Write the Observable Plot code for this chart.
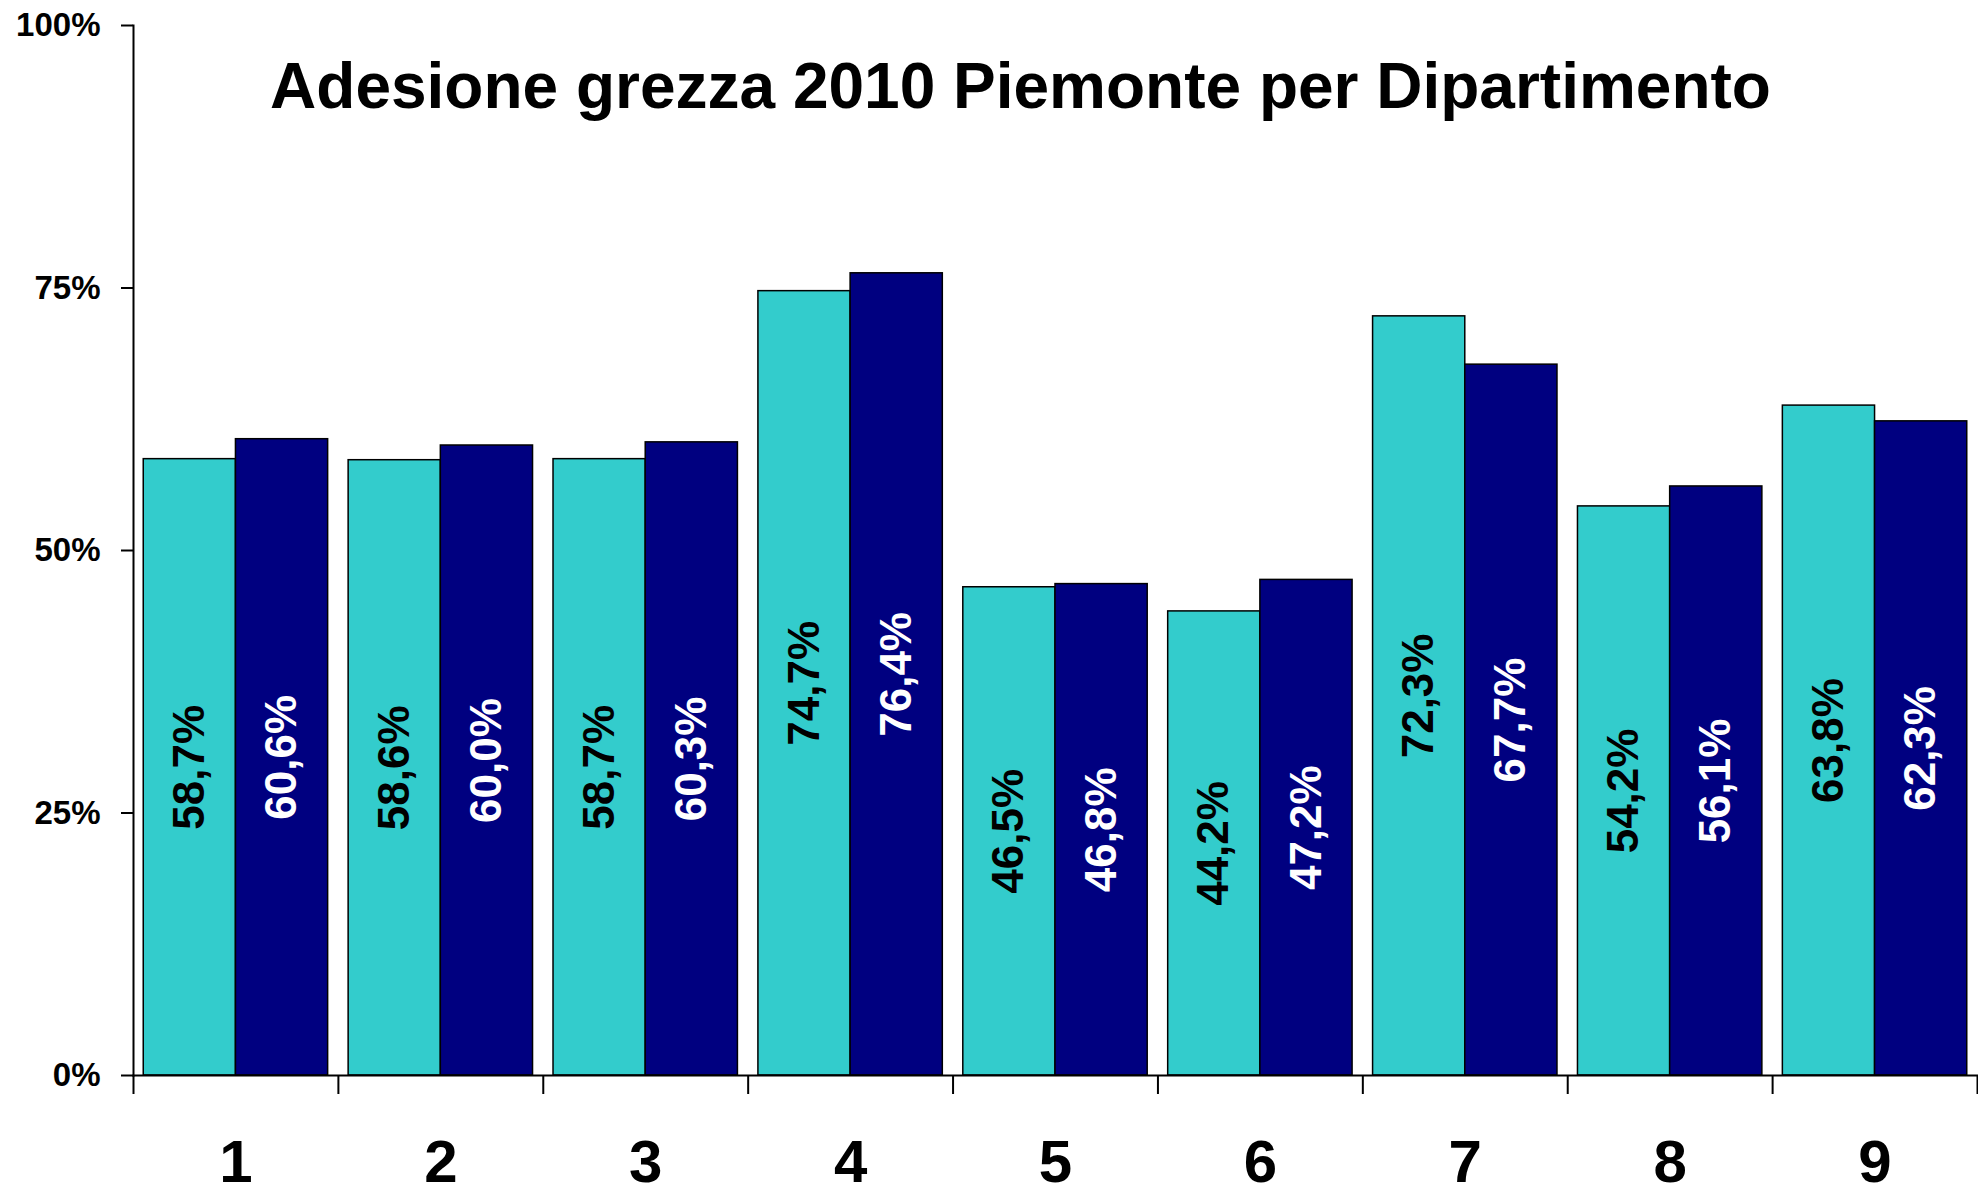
<!DOCTYPE html>
<html>
<head>
<meta charset="utf-8">
<script src="https://cdn.jsdelivr.net/npm/d3@7"></script>
<script src="https://cdn.jsdelivr.net/npm/@observablehq/plot@0.6"></script>
<style>
  html, body { margin: 0; padding: 0; background: #ffffff; }
  #chart { width: 1978px; height: 1196px; }
</style>
</head>
<body>
<div id="chart"></div>
<script>
const title = "Adesione grezza 2010 Piemonte per Dipartimento";
const departments = [1, 2, 3, 4, 5, 6, 7, 8, 9];
const seriesA = [0.587, 0.586, 0.587, 0.747, 0.465, 0.442, 0.723, 0.542, 0.638];
const seriesB = [0.606, 0.600, 0.603, 0.764, 0.468, 0.472, 0.677, 0.561, 0.623];
const yTicks = [0, 0.25, 0.5, 0.75, 1];
const colorA = "#33CCCC";
const colorB = "#000080";

const half = 0.45;
const rows = [];
departments.forEach((d, i) => {
  rows.push({dept: d, series: "A", value: seriesA[i], x1: d - half, x2: d});
  rows.push({dept: d, series: "B", value: seriesB[i], x1: d, x2: d + half});
});
const boundaries = departments.map(d => d - 0.5).concat([departments[departments.length - 1] + 0.5]);
const fmt = v => (v * 100).toFixed(1).replace(".", ",") + "%";

const chart = Plot.plot({
  width: 1978,
  height: 1196,
  marginLeft: 133,
  marginRight: 1,
  marginTop: 25,
  marginBottom: 121,
  style: {fontFamily: "'Liberation Sans', Arial, sans-serif", background: "#ffffff", color: "#000", overflow: "visible"},
  x: {type: "linear", domain: [0.5, 9.5]},
  y: {domain: [0, 1]},
  marks: [
    Plot.rectY(rows, {
      x1: "x1", x2: "x2", y: "value",
      fill: d => d.series === "A" ? colorA : colorB,
      stroke: "#000", strokeWidth: 1.5
    }),
    Plot.text(rows, {
      x: d => (d.x1 + d.x2) / 2,
      y: d => d.value / 2,
      text: d => fmt(d.value),
      rotate: -90,
      fill: d => d.series === "A" ? "#000" : "#fff",
      fontSize: 44,
      fontWeight: "bold"
    }),
    Plot.frame({anchor: "left", stroke: "#000", strokeWidth: 2}),
    Plot.frame({anchor: "bottom", stroke: "#000", strokeWidth: 2}),
    Plot.axisY({
      ticks: yTicks, tickSize: 12, tickPadding: 21,
      tickFormat: v => Math.round(v * 100) + "%",
      fontSize: 33, fontWeight: "bold", strokeWidth: 2, label: null
    }),
    Plot.axisX({
      ticks: boundaries, tickSize: 19, tickFormat: () => "", strokeWidth: 2, label: null
    }),
    Plot.axisX({
      ticks: departments, tickSize: 0, tickPadding: 64,
      tickFormat: d => String(d), fontSize: 60, fontWeight: "bold", label: null
    }),
    Plot.text([title], {
      frameAnchor: "top", lineAnchor: "middle", dy: 62, dx: -35,
      fontSize: 64, fontWeight: "bold", fill: "#000"
    })
  ]
});
document.getElementById("chart").appendChild(chart);
</script>
</body>
</html>
